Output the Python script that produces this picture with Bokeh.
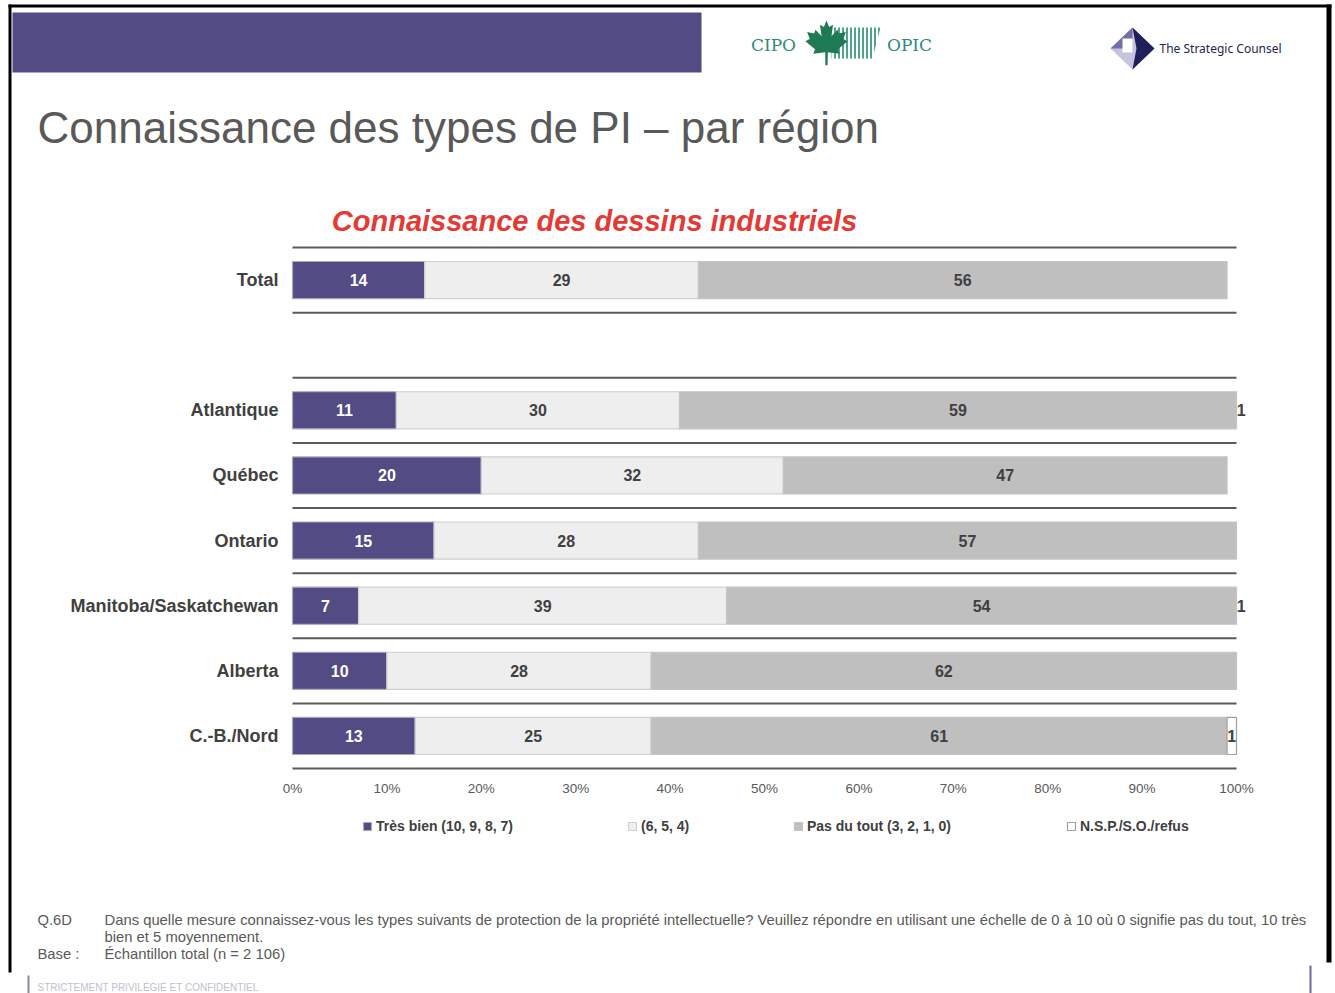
from bokeh.plotting import figure
from bokeh.models import (Range1d, FixedTicker, Legend, LegendItem, ColumnDataSource)
from bokeh.core.properties import value
from bokeh.embed import file_html
from bokeh.resources import INLINE

# ---------------- data ----------------
categories = ["Total", "Atlantique", "Québec", "Ontario",
              "Manitoba/Saskatchewan", "Alberta", "C.-B./Nord"]
tres_bien = [14, 11, 20, 15, 7, 10, 13]
moyen = [29, 30, 32, 28, 39, 28, 25]
pas_du_tout = [56, 59, 47, 57, 54, 62, 61]
nsp = [0, 1, 0, 0, 1, 0, 1]
series_names = ["Très bien (10, 9, 8, 7)", "(6, 5, 4)",
                "Pas du tout (3, 2, 1, 0)", "N.S.P./S.O./refus"]
x_ticks = [0, 10, 20, 30, 40, 50, 60, 70, 80, 90, 100]
x_tick_labels = ["0%", "10%", "20%", "30%", "40%", "50%", "60%", "70%", "80%", "90%", "100%"]

title_text = "Connaissance des types de PI – par région"
subtitle_text = "Connaissance des dessins industriels"
note_q = "Q.6D"
note_line1 = ("Dans quelle mesure connaissez-vous les types suivants de protection de la propriété "
              "intellectuelle? Veuillez répondre en utilisant une échelle de 0 à 10 où 0 signifie pas du tout, 10 très")
note_line2 = "bien et 5 moyennement."
note_base = "Base :"
note_base_text = "Échantillon total (n = 2 106)"
confidential = "STRICTEMENT PRIVILÉGIÉ ET CONFIDENTIEL"

# ---------------- styles / page geometry ----------------
PURPLE = "#524b84"
series_fill = [PURPLE, "#eeeeee", "#bfbfbf", "#ffffff"]
series_line = ["#a8a8b8", "#cfcfcf", "#c4c4c4", "#a0a0a0"]
series_text = ["#ffffff", "#404040", "#404040", "#404040"]
FONT = "Liberation Sans"
W, H = 1335, 993
X0, XS = 292, 9.44          # pixel of 0 %, pixels per 1 %
SEP_TOP, ROW = 247, 65.125  # pixel of the top separator, pixels per row

n_rows = len(categories) + 1            # one empty row below "Total"
slots = [0] + [i + 1 for i in range(1, len(categories))]
ypos = [n_rows - 1 - s for s in slots]


def fx(X):
    return (X - X0) / XS


def fy(Y):
    return (n_rows - 0.5) - (Y - SEP_TOP) / ROW


p = figure(width=W, height=H, x_range=Range1d(fx(0), fx(W)), y_range=Range1d(fy(H), fy(0)),
           output_backend="svg", toolbar_location=None, min_border=0)
p.title = None
p.outline_line_color = None
p.xgrid.visible = False
p.ygrid.visible = False
p.background_fill_color = "white"
p.border_fill_color = "white"


def rect(l, r, t, b, color):
    p.quad(left=fx(l), right=fx(r), top=fy(t), bottom=fy(b), fill_color=color, line_color=None)


def patch(xs, ys, color, **kw):
    p.patch([fx(v) for v in xs], [fy(v) for v in ys], fill_color=color, line_color=None, **kw)


def txt(x, y, text, size, color, font=FONT, style="normal", align="left"):
    p.text(x=[fx(x)], y=[fy(y)], text=[text], text_font=value(font), text_font_size=size,
           text_color=color, text_font_style=style, text_align=align, text_baseline="middle")


# ---------------- page frame, banner, logos ----------------
rect(8, 1331, 4, 7, "black")
rect(8, 11, 4, 972, "black")
rect(1326, 1331, 4, 962, "black")
rect(27, 29, 975, 993, "#8a88aa")
rect(1309, 1311, 965, 993, "#6a68a0")
rect(12, 701, 12, 72, PURPLE)

# CIPO / OPIC logo
patch([831, 880, 872, 831], [27, 27, 58, 58], "white",
      hatch_pattern="|", hatch_color="#3a9a7e", hatch_scale=4, hatch_weight=2, hatch_alpha=0.9)
leaf = [(0, -1), (0.12, -0.72), (0.3, -0.82), (0.22, -0.32), (0.5, -0.6), (0.56, -0.44),
        (0.88, -0.5), (0.76, -0.2), (0.96, -0.1), (0.52, 0.25), (0.6, 0.45), (0.06, 0.38),
        (0.05, 0.95), (-0.05, 0.95), (-0.06, 0.38), (-0.6, 0.45), (-0.52, 0.25), (-0.96, -0.1),
        (-0.76, -0.2), (-0.88, -0.5), (-0.56, -0.44), (-0.5, -0.6), (-0.22, -0.32),
        (-0.3, -0.82), (-0.12, -0.72)]
patch([826 + 22 * a for a, b in leaf], [43 + 23 * b for a, b in leaf], "#1d7a55")
txt(773, 44, "CIPO", "17px", "#2e8b7b", font="DejaVu Serif", align="center")
txt(909, 44, "OPIC", "17px", "#2e8b7b", font="DejaVu Serif", align="center")

# Strategic Counsel logo
patch([1110, 1132, 1154, 1132], [48, 27, 48, 69], "#c4c4de")
patch([1132, 1154, 1132, 1136], [27, 48, 69, 48], "#1f1f5e")
patch([1110, 1132, 1132, 1122], [48, 27, 38, 48], "#7070a8")
rect(1122, 1132, 38, 52, "white")
txt(1159, 48, "The Strategic Counsel", "12px", "#25254f", font="Noto Sans")

# titles
txt(37, 127, title_text, "44px", "#595959")
txt(594, 220, subtitle_text, "29px", "#e53935", style="bold italic", align="center")

# footnote
txt(37, 919, note_q, "14.8px", "#595959")
txt(104, 919, note_line1, "14.8px", "#595959")
txt(104, 936, note_line2, "14.8px", "#595959")
txt(37, 953, note_base, "14.8px", "#595959")
txt(104, 953, note_base_text, "14.8px", "#595959")
txt(37, 987, confidential, "10px", "#c0c0cc")

# ---------------- chart ----------------
bounds = [k - 0.5 for k in range(n_rows + 1)]
p.segment(x0=[0] * len(bounds), x1=[100] * len(bounds), y0=bounds, y1=bounds,
          line_color="#5a5a5a", line_width=2)

series = [tres_bien, moyen, pas_du_tout, nsp]
cum = [0] * len(categories)
renderers = []
lab_x, lab_y, lab_t, lab_c = [], [], [], []
for si, vals in enumerate(series):
    lefts, rights, ys = [], [], []
    for ci, v in enumerate(vals):
        l = cum[ci]
        r = cum[ci] + v
        if v > 0:
            lab_x.append((l + r) / 2)
            lab_y.append(ypos[ci])
            lab_t.append(str(v))
            lab_c.append(series_text[si])
        rc = min(r, 100)          # axis stops at 100 %
        if rc > l:
            lefts.append(l)
            rights.append(rc)
            ys.append(ypos[ci])
        cum[ci] = r
    src = ColumnDataSource(dict(y=ys, left=lefts, right=rights))
    rr = p.hbar(y="y", left="left", right="right", height=0.57, source=src,
                fill_color=series_fill[si], line_color=series_line[si], line_width=1.2)
    renderers.append(rr)

lsrc = ColumnDataSource(dict(x=lab_x, y=lab_y, t=lab_t, c=lab_c))
p.text(x="x", y="y", text="t", text_color="c", source=lsrc, text_align="center",
       text_baseline="middle", text_font=value(FONT), text_font_style="bold",
       text_font_size="16px")

# axes, pinned to the chart area
p.xaxis.fixed_location = -0.5
p.xaxis.ticker = FixedTicker(ticks=x_ticks)
p.xaxis.major_label_overrides = {t: s for t, s in zip(x_ticks, x_tick_labels)}
p.xaxis.axis_line_color = None
p.xaxis.major_tick_line_color = None
p.xaxis.minor_tick_line_color = None
p.xaxis.major_tick_out = 0
p.xaxis.major_tick_in = 0
p.xaxis.major_label_standoff = 12
p.xaxis.major_label_text_font = FONT
p.xaxis.major_label_text_font_size = "13.5px"
p.xaxis.major_label_text_color = "#595959"

p.yaxis.fixed_location = 0
p.yaxis.ticker = FixedTicker(ticks=ypos)
p.yaxis.major_label_overrides = {y: c for y, c in zip(ypos, categories)}
p.yaxis.axis_line_color = None
p.yaxis.major_tick_line_color = None
p.yaxis.minor_tick_line_color = None
p.yaxis.major_tick_out = 0
p.yaxis.major_tick_in = 0
p.yaxis.major_label_standoff = 14
p.yaxis.major_label_text_font = FONT
p.yaxis.major_label_text_font_style = "bold"
p.yaxis.major_label_text_font_size = "18px"
p.yaxis.major_label_text_color = "#404040"

# legend items placed like the original (screen px from bottom-left)
leg_x = [362, 627, 793, 1066]
for name, rr, lx in zip(series_names, renderers, leg_x):
    lg = Legend(items=[LegendItem(label=name, renderers=[rr])], orientation="horizontal",
                location=(lx, H - 834), glyph_width=10, glyph_height=10, label_standoff=4,
                label_text_font=FONT, label_text_font_style="bold",
                label_text_font_size="14px", label_text_color="#404040",
                padding=0, margin=0, border_line_alpha=0, background_fill_alpha=0)
    p.add_layout(lg, "center")

open("out.html", "w").write(file_html(p, INLINE))
